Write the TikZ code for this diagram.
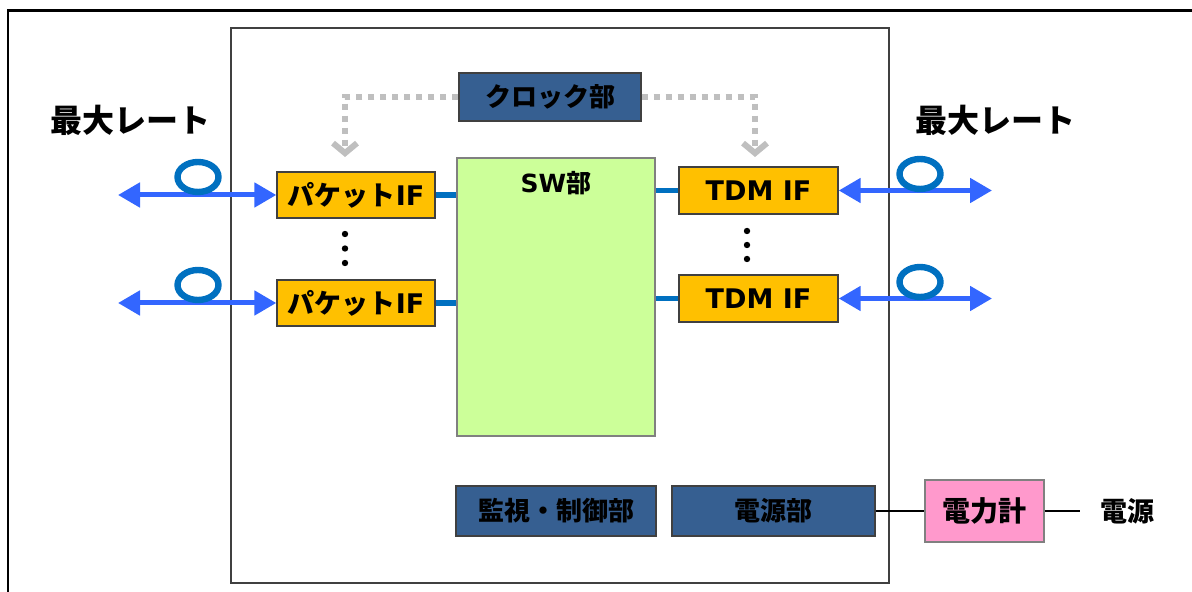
\documentclass[tikz,border=0pt]{standalone}
\usepackage{fontspec}
\setmainfont{DejaVu Sans}
\newfontfamily\jp{Noto Sans CJK JP}
\usetikzlibrary{arrows.meta,shapes.geometric,calc}
\definecolor{boxblue}{RGB}{54,95,145}
\definecolor{ifyellow}{RGB}{255,192,0}
\definecolor{swgreen}{RGB}{204,255,153}
\definecolor{meterpink}{RGB}{255,153,204}
\definecolor{arrowblue}{RGB}{51,102,255}
\definecolor{linkblue}{RGB}{0,112,192}
\definecolor{clockgray}{RGB}{191,191,191}
\definecolor{edgegray}{RGB}{64,64,64}
\begin{document}
\begin{tikzpicture}[x=0.5pt,y=-0.5pt,
  box/.style={draw=edgegray,line width=0.7pt,inner sep=0pt},
  bluebox/.style={box,fill=boxblue,font=\fontsize{13}{15}\selectfont\bfseries},
  ifbox/.style={box,fill=ifyellow,minimum width=79pt,minimum height=23pt,font=\fontsize{13.5}{15}\selectfont\bfseries},
  dotnode/.style={circle,fill=black,inner sep=0pt,minimum size=3.2pt},
  linkline/.style={draw=linkblue,line width=2.6pt},
  biarrow/.style={draw=arrowblue,line width=2.5pt,{Triangle[length=11pt,width=12pt]}-{Triangle[length=11pt,width=12pt]}},
  loopnode/.style={ellipse,draw=linkblue,line width=3.2pt,minimum width=20.5pt,minimum height=15pt,inner sep=0pt},
  clockline/.style={draw=clockgray,line width=3pt,dash pattern=on 3pt off 3pt,-{Straight Barb[length=5pt,width=12pt]}},
  powerline/.style={draw=black,line width=0.7pt},
  ratelabel/.style={font=\fontsize{16}{18}\selectfont\bfseries\jp,inner sep=0pt}
]
\useasboundingbox (0,0) rectangle (1192,592);
% outer frame
\draw[line width=1.1pt] (8,592) -- (8,10.5) -- (1192,10.5);
% chassis
\node[draw=edgegray,line width=0.8pt,minimum width=329pt,minimum height=277.5pt,inner sep=0pt] (chassis) at (560,305.5) {};

% clock
\node[bluebox,minimum width=91pt,minimum height=24pt] (clock) at (550,97) {\jp クロック部};
% SW
\node[box,draw=gray,fill=swgreen,minimum width=99pt,minimum height=139pt] (sw) at (556,297) {};
\node[font=\fontsize{12.5}{14}\selectfont\bfseries,inner sep=0pt] (swlabel) at (556,183) {SW{\jp 部}};

% IF boxes
\node[ifbox] (pk1) at (356,195) {{\jp パケット}IF};
\node[ifbox] (pk2) at (356,303) {{\jp パケット}IF};
\node[ifbox,minimum width=79.5pt,minimum height=23.5pt] (tdm1) at (758.5,190.5) {TDM IF};
\node[ifbox,minimum width=79.5pt,minimum height=23.5pt] (tdm2) at (758.5,298.5) {TDM IF};

% dots
\node[dotnode] (dl1) at (345,234) {};
\node[dotnode] (dl2) at (345,248.5) {};
\node[dotnode] (dl3) at (345,263) {};
\node[dotnode] (dr1) at (747,231) {};
\node[dotnode] (dr2) at (747,245) {};
\node[dotnode] (dr3) at (747,259) {};

% links to SW
\draw[linkline] (pk1.east) -- (pk1.east -| sw.west);
\draw[linkline] (pk2.east) -- (pk2.east -| sw.west);
\draw[linkline] (tdm1.west -| sw.east) -- (tdm1.west);
\draw[linkline] (tdm2.west -| sw.east) -- (tdm2.west);

% clock distribution
\coordinate (ckl) at (345,157);
\coordinate (ckr) at (755,157);
\draw[clockline] (clock.west) -| (ckl);
\draw[clockline] (clock.east) -| (ckr);

% external ports
\coordinate (el1) at (118,195);
\coordinate (el2) at (118,303);
\coordinate (er1) at (992,190.5);
\coordinate (er2) at (992,298.5);
\draw[biarrow] (el1) -- (pk1.west);
\draw[biarrow] (el2) -- (pk2.west);
\draw[biarrow] (tdm1.east) -- (er1);
\draw[biarrow] (tdm2.east) -- (er2);
\node[loopnode] (lp1) at (198,177) {};
\node[loopnode] (lp2) at (198,285) {};
\node[loopnode] (lp3) at (920,174) {};
\node[loopnode] (lp4) at (920,282) {};

\node[ratelabel] (rateL) at (130,120) {最大レート};
\node[ratelabel] (rateR) at (995,120) {最大レート};

% bottom
\node[bluebox,minimum width=100pt,minimum height=25pt] (mon) at (556,511) {\jp 監視・制御部};
\node[bluebox,minimum width=101.5pt,minimum height=25pt] (psu) at (773.5,511) {\jp 電源部};
\node[box,draw=gray,fill=meterpink,minimum width=59.5pt,minimum height=31pt,font=\fontsize{14}{16}\selectfont\bfseries\jp] (meter) at (984.5,511) {電力計};
\draw[powerline] (psu.east) -- (meter.west);
\coordinate (pw) at (1080,511);
\draw[powerline] (meter.east) -- (pw);
\node[font=\fontsize{13.5}{15}\selectfont\bfseries\jp,inner sep=0pt] (mains) at (1127,511) {電源};
\end{tikzpicture}
\end{document}
